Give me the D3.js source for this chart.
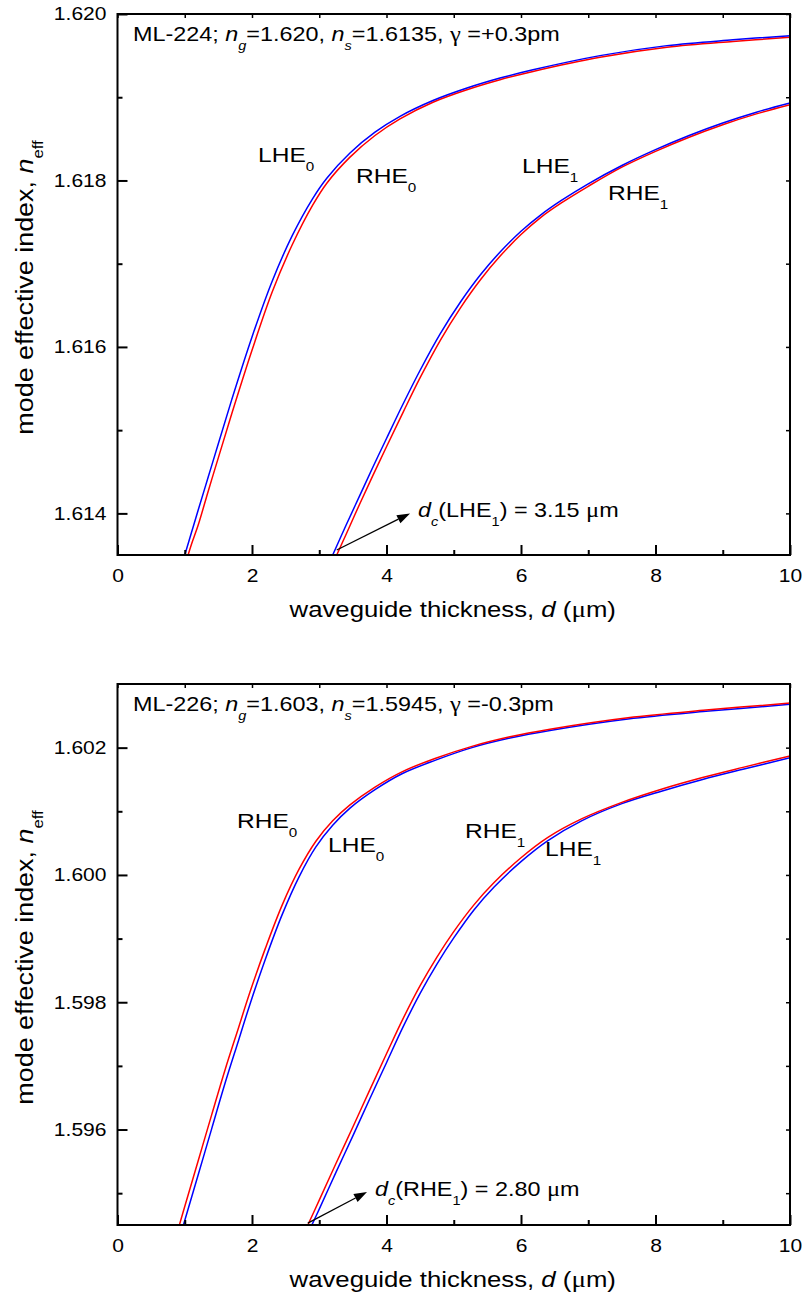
<!DOCTYPE html>
<html><head><meta charset="utf-8">
<script src="https://cdn.jsdelivr.net/npm/d3@7"></script>
<style>
body{margin:0;background:#fff}
svg{display:block}
text{font-family:"Liberation Sans",Arial,Helvetica,sans-serif;fill:#000}
</style>
</head><body>
<svg id="chart" width="804" height="1298"></svg>
<script>
// ---------------- data ----------------
const xMajorTicks = [0, 2, 4, 6, 8, 10];
const xMinorTicks = [1, 3, 5, 7, 9];
const xTopTicks = [0,1,2,3,4,5,6,7,8,9,10];

const topYMajor = [1.614, 1.616, 1.618, 1.620];
const topYMinor = [1.615, 1.617, 1.619];
const topYAll   = [1.614, 1.615, 1.616, 1.617, 1.618, 1.619, 1.620];
const botYMajor = [1.596, 1.598, 1.600, 1.602];
const botYMinor = [1.595, 1.597, 1.599, 1.601];
const botYAll   = [1.595, 1.596, 1.597, 1.598, 1.599, 1.600, 1.601, 1.602];

// top panel (ML-224): [d (um), n_eff]
const topLHE0 = [[1.00,1.61350],[1.10,1.61377],[1.20,1.61404],[1.35,1.61444],[1.50,1.61484],[1.70,1.61537],[2.00,1.61612],[2.30,1.61679],[2.60,1.61734],[2.90,1.61778],[3.115,1.61803],[3.457,1.61833],[3.829,1.61858],[4.201,1.61877],[4.691,1.61896],[5.197,1.61911],[5.688,1.61923],[6.178,1.61933],[7.175,1.61950],[8.171,1.61962],[9.152,1.61969],[10.0,1.61974]];
const topRHE0 = [[1.05,1.61350],[1.10,1.61363],[1.20,1.61386],[1.35,1.61427],[1.50,1.61467],[1.70,1.61520],[2.00,1.61596],[2.30,1.61666],[2.60,1.61723],[2.90,1.61770],[3.115,1.61797],[3.457,1.61828],[3.829,1.61854],[4.201,1.61874],[4.691,1.61894],[5.197,1.61909],[5.688,1.61921],[6.178,1.61931],[7.175,1.61948],[8.171,1.61960],[9.152,1.61967],[10.0,1.61972]];
const topLHE1 = [[3.20,1.61350],[3.40,1.61386],[3.60,1.61421],[3.80,1.61456],[4.00,1.61490],[4.25,1.61532],[4.50,1.61572],[4.80,1.61616],[5.10,1.61654],[5.40,1.61687],[5.70,1.61715],[6.00,1.61739],[6.30,1.61759],[6.60,1.61776],[7.00,1.61796],[7.50,1.61818],[8.00,1.61837],[8.50,1.61854],[9.00,1.61869],[9.50,1.61882],[10.0,1.61893]];
const topRHE1 = [[3.26,1.61350],[3.40,1.61375],[3.60,1.61411],[3.80,1.61446],[4.00,1.61480],[4.25,1.61522],[4.50,1.61563],[4.80,1.61608],[5.10,1.61647],[5.40,1.61681],[5.70,1.61710],[6.00,1.61735],[6.30,1.61756],[6.60,1.61773],[7.00,1.61793],[7.50,1.61816],[8.00,1.61835],[8.50,1.61852],[9.00,1.61867],[9.50,1.61880],[10.0,1.61891]];

// bottom panel (ML-226)
const botRHE0 = [[0.92,1.59450],[1.00,1.59479],[1.20,1.59551],[1.40,1.59623],[1.60,1.59694],[1.80,1.59760],[1.97,1.59816],[2.20,1.59885],[2.45,1.59953],[2.70,1.60009],[2.95,1.60053],[3.20,1.60085],[3.457,1.60110],[3.829,1.60138],[4.23,1.60162],[4.721,1.60183],[5.271,1.60202],[5.836,1.60217],[6.431,1.60229],[7.591,1.60247],[8.751,1.60259],[10.0,1.60270]];
const botLHE0 = [[0.98,1.59450],[1.00,1.59457],[1.20,1.59529],[1.40,1.59601],[1.60,1.59673],[1.80,1.59740],[1.97,1.59797],[2.20,1.59868],[2.45,1.59938],[2.70,1.59997],[2.95,1.60044],[3.20,1.60078],[3.457,1.60105],[3.829,1.60134],[4.23,1.60159],[4.721,1.60180],[5.271,1.60200],[5.836,1.60215],[6.431,1.60227],[7.591,1.60245],[8.751,1.60257],[10.0,1.60268]];
const botRHE1 = [[2.83,1.59450],[3.00,1.59489],[3.25,1.59547],[3.50,1.59604],[3.75,1.59662],[4.00,1.59719],[4.25,1.59775],[4.50,1.59826],[4.75,1.59871],[5.00,1.59911],[5.30,1.59953],[5.60,1.59988],[6.00,1.60027],[6.40,1.60059],[6.90,1.60088],[7.50,1.60114],[8.10,1.60135],[8.70,1.60153],[9.30,1.60169],[10.0,1.60187]];
const botLHE1 = [[2.89,1.59450],[3.00,1.59475],[3.25,1.59533],[3.50,1.59590],[3.75,1.59648],[4.00,1.59705],[4.25,1.59762],[4.50,1.59814],[4.75,1.59860],[5.00,1.59901],[5.30,1.59945],[5.60,1.59981],[6.00,1.60021],[6.40,1.60054],[6.90,1.60085],[7.50,1.60112],[8.10,1.60132],[8.70,1.60150],[9.30,1.60166],[10.0,1.60184]];

// ---------------- drawing ----------------
const SX = 1.17; // horizontal text stretch of the reference
const svg = d3.select("#chart");
const X0 = 117.5, X1 = 790;
const x = d3.scaleLinear().domain([0, 10]).range([X0, X1]);
const SERIF = "'Liberation Serif','DejaVu Serif',serif";

function rich(g, px, py, parts, size, opt) {
  opt = opt || {};
  const rot = opt.rotate ? ` rotate(${opt.rotate})` : "";
  const t = g.append("text")
    .attr("transform", `translate(${px},${py})${rot} scale(${SX},1)`)
    .attr("font-size", size)
    .attr("text-anchor", opt.anchor || "start");
  let down = 0;
  parts.forEach(p => {
    const ts = t.append("tspan").text(p.t);
    if (p.i) ts.attr("font-style", "italic");
    if (p.serif) ts.attr("font-family", SERIF).attr("font-size", size * 1.05);
    if (p.sub) {
      const s = size * 0.62, dd = size * 0.45;
      ts.attr("font-size", s).attr("dy", dd - down);
      down = dd;
    } else if (down) {
      ts.attr("dy", -down);
      down = 0;
    }
  });
  return t;
}

function panel(cfg) {
  const g = svg.append("g");
  const y = d3.scaleLinear().domain(cfg.yDomain).range([cfg.bottom, cfg.top]);
  const clipId = "clip" + cfg.id;
  svg.append("clipPath").attr("id", clipId).append("rect")
    .attr("x", X0).attr("y", cfg.top).attr("width", X1 - X0).attr("height", cfg.bottom - cfg.top);

  const line = d3.line().x(d => x(d[0])).y(d => y(d[1])).curve(d3.curveCatmullRom.alpha(0.5));
  const cg = g.append("g").attr("clip-path", `url(#${clipId})`);
  cfg.series.forEach(s => {
    cg.append("path").datum(s.data).attr("d", line)
      .attr("fill", "none").attr("stroke", s.color).attr("stroke-width", 1.5);
  });

  const styleAxis = (a, w) => {
    a.select(".domain").remove();
    a.selectAll(".tick line").attr("stroke", "#000").attr("stroke-width", w);
  };
  const bx = g.append("g").attr("transform", `translate(0,${cfg.bottom})`)
    .call(d3.axisBottom(x).tickValues(xMajorTicks).tickSizeInner(-10).tickSizeOuter(0).tickPadding(14).tickFormat(d3.format("d")));
  styleAxis(bx, 2);
  bx.selectAll("text").attr("font-size", 18).attr("font-family", null).attr("fill", "#000")
    .attr("transform", `scale(${SX},1)`);
  const bxm = g.append("g").attr("transform", `translate(0,${cfg.bottom})`)
    .call(d3.axisBottom(x).tickValues(xMinorTicks).tickSizeInner(-5).tickSizeOuter(0).tickFormat(""));
  styleAxis(bxm, 2);
  const tx = g.append("g").attr("transform", `translate(0,${cfg.top})`)
    .call(d3.axisTop(x).tickValues(xTopTicks).tickSizeInner(-4).tickSizeOuter(0).tickFormat(""));
  styleAxis(tx, 1.5);
  const ly = g.append("g").attr("transform", `translate(${X0},0)`)
    .call(d3.axisLeft(y).tickValues(cfg.yMajor).tickSizeInner(-10).tickSizeOuter(0).tickPadding(11).tickFormat(d3.format(".3f")));
  styleAxis(ly, 2);
  ly.selectAll("text").attr("font-size", 18).attr("font-family", null).attr("fill", "#000")
    .attr("x", -11 / SX).attr("transform", `scale(${SX},1)`);
  const lym = g.append("g").attr("transform", `translate(${X0},0)`)
    .call(d3.axisLeft(y).tickValues(cfg.yMinor).tickSizeInner(-5).tickSizeOuter(0).tickFormat(""));
  styleAxis(lym, 2);
  const ry = g.append("g").attr("transform", `translate(${X1},0)`)
    .call(d3.axisRight(y).tickValues(cfg.yAll).tickSizeInner(-4).tickSizeOuter(0).tickFormat(""));
  styleAxis(ry, 1.5);

  g.append("rect").attr("x", X0).attr("y", cfg.top).attr("width", X1 - X0).attr("height", cfg.bottom - cfg.top)
    .attr("fill", "none").attr("stroke", "#000").attr("stroke-width", 2);

  rich(g, 133, cfg.top + 27, cfg.header, 20);

  cfg.labels.forEach(l => rich(g, l.px, l.py, [{t: l.name}, {t: l.sub, sub: 1}], 21));

  rich(g, (X0 + X1) / 2 - 1, cfg.bottom + 62,
    [{t: "waveguide thickness, "}, {t: "d", i: 1}, {t: " ("}, {t: "μ", serif: 1}, {t: "m)"}], 22, {anchor: "middle"});
  rich(g, 33, (cfg.top + cfg.bottom) / 2 + 3,
    [{t: "mode effective index, "}, {t: "n", i: 1}, {t: "eff", sub: 1}], 23, {anchor: "middle", rotate: -90});

  const a = cfg.arrow;
  const x1 = x(a.from[0]), y1 = y(a.from[1]), x2 = x(a.to[0]), y2 = y(a.to[1]);
  const ang = Math.atan2(y2 - y1, x2 - x1);
  const L = 13, W = 4.5;
  const bxp = x2 - L * Math.cos(ang), byp = y2 - L * Math.sin(ang);
  g.append("line").attr("x1", x1).attr("y1", y1).attr("x2", bxp).attr("y2", byp)
    .attr("stroke", "#000").attr("stroke-width", 1.3);
  g.append("path").attr("d", `M${x2},${y2}L${bxp - W * Math.sin(ang)},${byp + W * Math.cos(ang)}L${bxp + W * Math.sin(ang)},${byp - W * Math.cos(ang)}Z`)
    .attr("fill", "#000");
  rich(g, x2 + 8, y2 + 4, a.text, 20);
}

panel({
  id: "t", top: 14, bottom: 555, yDomain: [1.6135, 1.620],
  yMajor: topYMajor, yMinor: topYMinor, yAll: topYAll,
  series: [{data: topRHE0, color: "#ff0000"}, {data: topLHE0, color: "#0000ff"},
           {data: topRHE1, color: "#ff0000"}, {data: topLHE1, color: "#0000ff"}],
  header: [{t: "ML-224; "}, {t: "n", i: 1}, {t: "g", i: 1, sub: 1}, {t: "=1.620, "}, {t: "n", i: 1}, {t: "s", i: 1, sub: 1}, {t: "=1.6135, "}, {t: "γ", serif: 1}, {t: " =+0.3pm"}],
  labels: [{name: "LHE", sub: "0", px: 258, py: 162}, {name: "RHE", sub: "0", px: 356, py: 183},
           {name: "LHE", sub: "1", px: 522, py: 173}, {name: "RHE", sub: "1", px: 608, py: 200}],
  arrow: {from: [3.26, 1.61356], to: [4.35, 1.61400],
          text: [{t: "d", i: 1}, {t: "c", i: 1, sub: 1}, {t: "(LHE"}, {t: "1", sub: 1}, {t: ") = 3.15 "}, {t: "μ", serif: 1}, {t: "m"}]}
});

panel({
  id: "b", top: 684, bottom: 1225, yDomain: [1.5945, 1.603],
  yMajor: botYMajor, yMinor: botYMinor, yAll: botYAll,
  series: [{data: botLHE0, color: "#0000ff"}, {data: botRHE0, color: "#ff0000"},
           {data: botLHE1, color: "#0000ff"}, {data: botRHE1, color: "#ff0000"}],
  header: [{t: "ML-226; "}, {t: "n", i: 1}, {t: "g", i: 1, sub: 1}, {t: "=1.603, "}, {t: "n", i: 1}, {t: "s", i: 1, sub: 1}, {t: "=1.5945, "}, {t: "γ", serif: 1}, {t: " =-0.3pm"}],
  labels: [{name: "RHE", sub: "0", px: 237, py: 828}, {name: "LHE", sub: "0", px: 328, py: 852},
           {name: "RHE", sub: "1", px: 465, py: 838}, {name: "LHE", sub: "1", px: 545, py: 856}],
  arrow: {from: [2.83, 1.59453], to: [3.71, 1.59502],
          text: [{t: "d", i: 1}, {t: "c", i: 1, sub: 1}, {t: "(RHE"}, {t: "1", sub: 1}, {t: ") = 2.80 "}, {t: "μ", serif: 1}, {t: "m"}]}
});
</script>
</body></html>
